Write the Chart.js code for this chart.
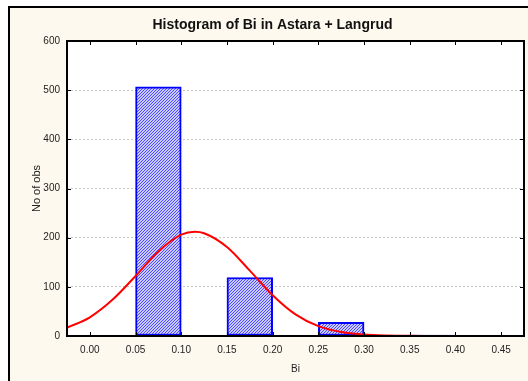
<!DOCTYPE html>
<html>
<head>
<meta charset="utf-8">
<script src="https://cdn.jsdelivr.net/npm/chart.js@4.4.1/dist/chart.umd.min.js"></script>
<style>
  html, body { margin: 0; padding: 0; background: #ffffff; }
  #wrap { width: 528px; height: 381px; }
</style>
</head>
<body>
<div id="wrap"><canvas id="c" width="528" height="381"></canvas></div>
<script>
// ---- Data ----
const chartTitle = 'Histogram of Bi in Astara + Langrud';
const xTitle = 'Bi';
const yTitle = 'No of obs';

// histogram bins (bin centres) and counts
const binCenters = [0.025, 0.075, 0.125, 0.175, 0.225, 0.275, 0.325, 0.375, 0.425];
const binCounts  = [0,     507,   0,     119,   0,     28,    0,     2,     0];

// fitted normal curve
const curveX = [-0.025, 0.000, 0.025, 0.050, 0.075, 0.100, 0.115, 0.125, 0.150, 0.175, 0.200, 0.225, 0.250, 0.275, 0.300, 0.325, 0.350, 0.375, 0.400, 0.425, 0.450, 0.475];
const curveY = [17,     38,    74,    122,   172,   206,   212,   209,   181,   133,   83,    44,    20,    8,     3,     1,     0.3,   0.1,   0,     0,     0,     0];

// axis ticks
const xTickValues = [0.00, 0.05, 0.10, 0.15, 0.20, 0.25, 0.30, 0.35, 0.40, 0.45];
const yTickValues = [0, 100, 200, 300, 400, 500, 600];

// ---- Styling helpers ----
const FONT = '"Liberation Sans", Arial, sans-serif';
const CREAM = '#fdf9ee';

function makeHatch() {
  const p = document.createElement('canvas');
  p.width = 3; p.height = 3;
  const g = p.getContext('2d');
  g.fillStyle = '#cacaff';
  g.fillRect(0, 0, 3, 3);
  g.fillStyle = '#4a4aff';
  g.fillRect(0, 2, 1, 1);
  g.fillRect(1, 1, 1, 1);
  g.fillRect(2, 0, 1, 1);
  return g.createPattern(p, 'repeat');
}

const framePlugin = {
  id: 'frame',
  beforeDraw(chart) {
    const ctx = chart.ctx;
    const W = chart.width, H = chart.height;
    ctx.save();
    ctx.fillStyle = '#ffffff';
    ctx.fillRect(0, 0, W, H);
    ctx.fillStyle = CREAM;
    ctx.fillRect(8, 6, W - 8, H - 6);
    ctx.fillStyle = '#000000';
    ctx.fillRect(8, 6, 2, H - 6);
    ctx.fillRect(8, 6, W - 8, 2);
    const a = chart.chartArea;
    ctx.fillStyle = '#ffffff';
    ctx.fillRect(a.left, a.top, a.right - a.left, a.bottom - a.top);
    ctx.restore();
  },
  afterDraw(chart) {
    const ctx = chart.ctx;
    const a = chart.chartArea;
    const xs = chart.scales.x, ys = chart.scales.y;
    ctx.save();
    ctx.strokeStyle = '#000000';
    ctx.lineWidth = 1;
    ctx.beginPath();
    xTickValues.forEach(v => {
      const px = Math.round(xs.getPixelForValue(v)) + 0.5;
      ctx.moveTo(px, a.bottom); ctx.lineTo(px, a.bottom - 4);
      ctx.moveTo(px, a.top); ctx.lineTo(px, a.top + 4);
    });
    yTickValues.forEach(v => {
      const py = Math.round(ys.getPixelForValue(v)) + 0.5;
      ctx.moveTo(a.left, py); ctx.lineTo(a.left + 4, py);
      ctx.moveTo(a.right, py); ctx.lineTo(a.right - 4, py);
    });
    ctx.stroke();
    ctx.lineWidth = 2;
    ctx.strokeRect(a.left, a.top, a.right - a.left, a.bottom - a.top);
    ctx.restore();
  }
};

const ctx = document.getElementById('c').getContext('2d');
const hatch = makeHatch();

new Chart(ctx, {
  type: 'bar',
  data: {
    datasets: [
      {
        type: 'line',
        order: 0,
        data: curveX.map((x, i) => ({ x: x, y: curveY[i] })),
        borderColor: '#ff0000',
        borderWidth: 2,
        pointRadius: 0,
        cubicInterpolationMode: 'monotone',
        fill: false
      },
      {
        type: 'bar',
        order: 1,
        data: binCenters.map((x, i) => ({ x: x, y: binCounts[i] })),
        backgroundColor: hatch,
        borderColor: '#0000ff',
        borderWidth: 2,
        borderSkipped: false,
        barPercentage: 1,
        categoryPercentage: 1
      }
    ]
  },
  options: {
    responsive: false,
    animation: false,
    devicePixelRatio: 1,
    layout: { padding: { left: 21, right: 4, top: 0, bottom: 0 } },
    plugins: {
      legend: { display: false },
      tooltip: { enabled: false },
      title: {
        display: true,
        text: chartTitle,
        color: '#111111',
        font: { family: FONT, size: 14, weight: 'bold', lineHeight: 1.2 },
        padding: { top: 17.1, bottom: 7.1 }
      }
    },
    scales: {
      x: {
        type: 'linear',
        min: -0.025,
        max: 0.475,
        offset: false,
        afterBuildTicks(scale) { scale.ticks = xTickValues.map(v => ({ value: v })); },
        afterFit(scale) { scale.height = 45; },
        grid: { display: false, drawTicks: false },
        border: { display: false },
        ticks: {
          padding: 8,
          color: '#222222',
          font: { family: FONT, size: 10 },
          maxRotation: 0,
          autoSkip: false,
          callback: (v) => Number(v).toFixed(2)
        },
        title: {
          display: true,
          text: xTitle,
          color: '#222222',
          font: { family: FONT, size: 10 },
          padding: { top: 0, bottom: 6 }
        }
      },
      y: {
        min: 0,
        max: 600,
        afterBuildTicks(scale) { scale.ticks = yTickValues.map(v => ({ value: v })); },
        afterFit(scale) { scale.width = 46; },
        grid: {
          drawTicks: false,
          lineWidth: 1,
          color: (c) => (c.tick && c.tick.value > 0 && c.tick.value < 600) ? '#c4c4c4' : 'rgba(0,0,0,0)'
        },
        border: { display: false, dash: [2, 2] },
        ticks: {
          padding: 7,
          color: '#222222',
          font: { family: FONT, size: 10 },
          callback: (v) => String(v)
        },
        title: {
          display: true,
          text: yTitle,
          color: '#222222',
          font: { family: FONT, size: 11 },
          padding: { top: 9.4, bottom: 0 }
        }
      }
    }
  },
  plugins: [framePlugin]
});
</script>
</body>
</html>
